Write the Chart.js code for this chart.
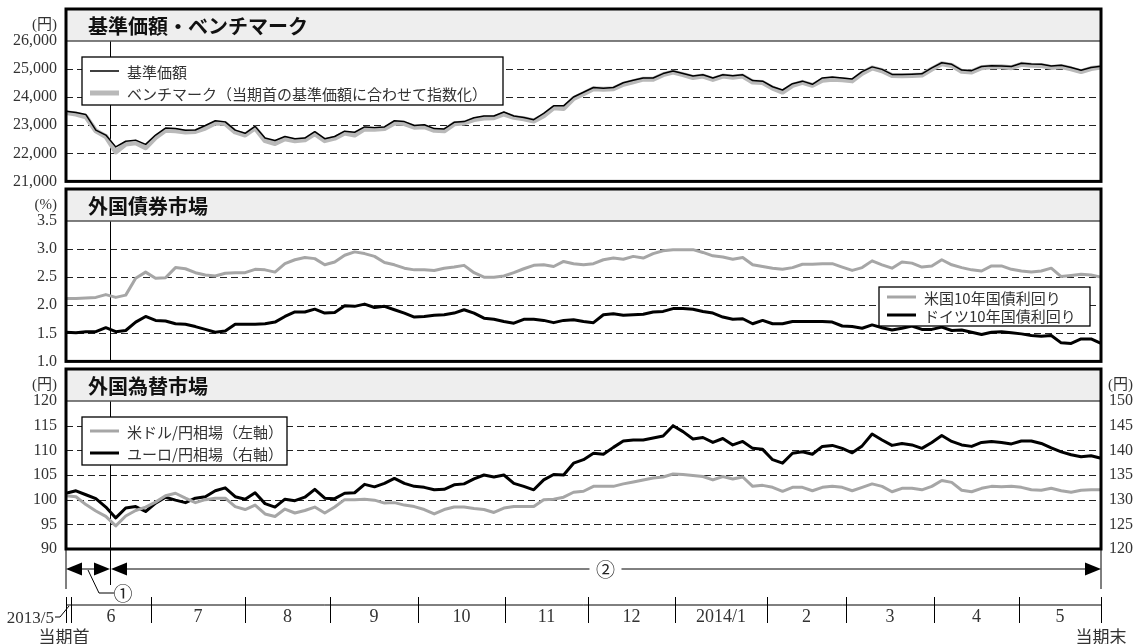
<!DOCTYPE html>
<html>
<head>
<meta charset="utf-8">
<script src="https://cdn.jsdelivr.net/npm/chart.js@4.4.1/dist/chart.umd.min.js"></script>
<style>
  html, body { margin: 0; padding: 0; background: #fff; }
  #wrap { position: relative; width: 1138px; height: 644px; overflow: hidden; }
  .panel { position: absolute; left: 0; width: 1138px; }
</style>
</head>
<body>
<div id="wrap">
  <div class="panel" style="top:0;height:200px"><canvas id="c1" width="1138" height="200"></canvas></div>
  <div class="panel" style="top:180px;height:200px"><canvas id="c2" width="1138" height="200"></canvas></div>
  <div class="panel" style="top:360px;height:284px"><canvas id="c3" width="1138" height="284"></canvas></div>
</div>
<script>
// 基準価額 / ベンチマーク (円), sampled about every 2.4 trading days from 当期首 to 当期末
const navValues = [
  23500, 23450, 23380, 22825, 22650, 22230, 22430, 22470, 22320, 22650,
  22900, 22880, 22825, 22830, 22990, 23160, 23120, 22825, 22713, 22960,
  22545, 22455, 22600, 22520, 22545, 22770, 22520, 22600, 22790, 22750,
  22940, 22915, 22940, 23160, 23129, 22990, 23015, 22880, 22870, 23105,
  23130, 23265, 23330, 23330, 23470, 23330, 23275, 23196, 23420, 23690,
  23690, 24007, 24176, 24345, 24320, 24345, 24514, 24600, 24683, 24683,
  24840, 24930, 24840, 24750, 24795, 24683, 24795, 24760, 24795, 24590,
  24570, 24370, 24255, 24480, 24570, 24457, 24683, 24720, 24683, 24650,
  24907, 25078, 24990, 24810, 24810, 24820, 24830, 25045, 25225, 25170,
  24965, 24943, 25090, 25120, 25110, 25090, 25210, 25180, 25170, 25110,
  25133, 25055, 24955, 25055, 25100
];
const benchValues = [
  23450, 23400, 23300, 22800, 22600, 22050, 22330, 22380, 22200, 22560,
  22820, 22800, 22760, 22780, 22900, 23080, 23060, 22760, 22650, 22900,
  22450, 22350, 22520, 22450, 22480, 22700, 22450, 22540, 22720, 22650,
  22870, 22860, 22880, 23080, 23060, 22930, 22950, 22820, 22800, 23050,
  23080, 23200, 23260, 23270, 23400, 23280, 23230, 23150, 23340, 23620,
  23600, 23950, 24120, 24300, 24280, 24300, 24460, 24550, 24640, 24640,
  24800, 24890, 24800, 24700, 24750, 24630, 24750, 24710, 24750, 24540,
  24520, 24320, 24180, 24420, 24530, 24420, 24600, 24640, 24620, 24580,
  24850, 25040, 24940, 24770, 24760, 24770, 24790, 25000, 25190, 25130,
  24920, 24900, 25050, 25080, 25080, 25050, 25170, 25140, 25130, 25060,
  25090, 25010, 24910, 25020, 25070
];
// 米国 / ドイツ 10年国債利回り (%)
const usYield = [
  2.12, 2.12, 2.13, 2.14, 2.19, 2.14, 2.18, 2.48, 2.59, 2.48,
  2.49, 2.67, 2.65, 2.58, 2.54, 2.52, 2.57, 2.58, 2.58, 2.64,
  2.63, 2.59, 2.74, 2.81, 2.85, 2.83, 2.72, 2.77, 2.89, 2.95,
  2.92, 2.87, 2.76, 2.72, 2.66, 2.63, 2.63, 2.62, 2.66, 2.68,
  2.71, 2.58, 2.50, 2.50, 2.52, 2.58, 2.65, 2.71, 2.72, 2.69,
  2.78, 2.74, 2.72, 2.74, 2.81, 2.84, 2.82, 2.87, 2.84, 2.92,
  2.97, 2.99, 2.99, 2.99, 2.94, 2.88, 2.86, 2.82, 2.85, 2.72,
  2.69, 2.66, 2.64, 2.67, 2.73, 2.73, 2.74, 2.74, 2.68, 2.62,
  2.67, 2.79, 2.72, 2.66, 2.77, 2.75, 2.68, 2.70, 2.81, 2.72,
  2.67, 2.63, 2.61, 2.70, 2.70, 2.64, 2.61, 2.59, 2.61, 2.66,
  2.51, 2.53, 2.55, 2.54, 2.50
];
const deYield = [
  1.52, 1.51, 1.53, 1.53, 1.60, 1.53, 1.55, 1.70, 1.80, 1.73,
  1.72, 1.67, 1.66, 1.62, 1.57, 1.52, 1.54, 1.66, 1.66, 1.66,
  1.67, 1.70, 1.80, 1.88, 1.88, 1.93, 1.86, 1.87, 1.99, 1.98,
  2.02, 1.96, 1.98, 1.92, 1.86, 1.79, 1.80, 1.82, 1.83, 1.86,
  1.92, 1.86, 1.77, 1.75, 1.71, 1.68, 1.75, 1.75, 1.73, 1.69,
  1.73, 1.74, 1.71, 1.69, 1.83, 1.85, 1.82, 1.83, 1.84, 1.88,
  1.89, 1.94, 1.94, 1.93, 1.89, 1.86, 1.79, 1.75, 1.76, 1.67,
  1.73, 1.67, 1.67, 1.71, 1.71, 1.71, 1.71, 1.70, 1.63, 1.62,
  1.59, 1.65, 1.60, 1.56, 1.59, 1.63, 1.57, 1.57, 1.61, 1.55,
  1.56, 1.52, 1.48, 1.52, 1.53, 1.51, 1.49, 1.46, 1.45, 1.46,
  1.33, 1.32, 1.40, 1.40, 1.32
];
// 米ドル/円 (左軸), ユーロ/円 (右軸)
const usdJpy = [
  100.8, 100.6, 99.0, 97.7, 96.6, 94.7, 96.7, 97.8, 98.5, 99.5,
  100.8, 101.3, 100.3, 99.4, 100.0, 100.3, 100.3, 98.6, 98.0, 98.9,
  97.1, 96.6, 98.1, 97.3, 97.8, 98.5, 97.3, 98.5, 100.0, 100.0,
  100.1, 99.9, 99.3, 99.4, 98.9, 98.6, 98.0, 97.1, 98.0, 98.5,
  98.5, 98.2, 98.0, 97.4, 98.3, 98.6, 98.6, 98.6, 100.0, 100.1,
  100.5, 101.5, 101.7, 102.7, 102.7, 102.7, 103.2, 103.6, 104.0, 104.4,
  104.6, 105.2, 105.1, 104.9, 104.7, 104.0, 104.7, 104.2, 104.6, 102.7,
  102.9, 102.5, 101.7, 102.5, 102.5, 101.8, 102.5, 102.7, 102.5, 101.8,
  102.5, 103.2, 102.7, 101.6, 102.3, 102.3, 102.0, 102.7, 103.9, 103.5,
  101.9, 101.6, 102.3, 102.7, 102.6, 102.7, 102.5, 102.0, 101.9, 102.3,
  101.8, 101.5, 101.9, 102.0, 102.0
];
const eurJpy = [
  131.3, 131.8, 131.0, 130.2, 128.5, 126.3, 128.3, 128.6, 127.6, 129.3,
  130.5, 129.9, 129.4, 130.3, 130.6, 131.8, 132.4, 130.6, 130.1, 131.4,
  129.2, 128.5, 130.1, 129.8, 130.5, 132.1, 130.3, 130.2, 131.3, 131.4,
  133.1, 132.6, 133.3, 134.3, 133.3, 132.7, 132.5, 132.0, 132.1, 133.0,
  133.2, 134.2, 135.0, 134.6, 135.0, 133.3, 132.7, 132.0, 134.0, 135.1,
  135.0, 137.4, 138.1, 139.4, 139.2, 140.6, 141.9, 142.1, 142.1, 142.5,
  142.9, 145.0, 143.8, 142.3, 142.6, 141.6, 142.4, 141.1, 141.8, 140.4,
  140.2, 138.1, 137.4, 139.4, 139.7, 139.2, 140.8, 141.0, 140.4, 139.5,
  140.9, 143.3, 142.1, 141.0, 141.4, 141.1, 140.4, 141.6, 143.0, 141.8,
  141.1, 140.8, 141.6, 141.8, 141.6, 141.3, 141.9, 141.9, 141.4, 140.5,
  139.7, 139.1, 138.7, 138.9, 138.4
];

// x axis: sample index; month boundaries and the ①/② split in the same units
const sampleIdx = navValues.map((_, i) => i);
const monthEdges = [0, 0.5, 8.54, 17.99, 26.53, 35.37, 44.11, 52.45, 61.19, 70.44, 78.38, 87.22, 95.76, 104];
const monthLabels = ["6", "7", "8", "9", "10", "11", "12", "2014/1", "2", "3", "4", "5"];
const periodSplit = 4.42;

const SERIF = "'Liberation Serif', 'DejaVu Serif', 'Noto Sans CJK JP', serif";
const GOTHIC = "'Noto Sans CJK JP', 'Noto Sans', sans-serif";
const GRAY = "#a6a6a6";

const line = (y1, y2, x1, x2, ctx) => {
  ctx.beginPath();
  ctx.moveTo(x1, y1);
  ctx.lineTo(x2, y2);
  ctx.stroke();
};

const arrowHead = (ctx, tipX, y, dir) => {
  // dir = -1 points left, +1 points right
  ctx.beginPath();
  ctx.moveTo(tipX, y);
  ctx.lineTo(tipX - dir * 16, y - 6.5);
  ctx.lineTo(tipX - dir * 16, y + 6.5);
  ctx.closePath();
  ctx.fill();
};

const deco = {
  id: "deco",
  beforeDraw(chart, args, o) {
    const { ctx, chartArea: a } = chart;
    ctx.save();
    ctx.fillStyle = "#eeeeee";
    ctx.fillRect(a.left, 9, a.right - a.left, a.top - 9);
    ctx.fillStyle = "#111";
    ctx.font = "bold 20px " + GOTHIC;
    ctx.textBaseline = "middle";
    ctx.fillText(o.title, a.left + 22, (9 + a.top) / 2 + 1);
    ctx.font = "15px " + SERIF;
    ctx.fillStyle = "#333";
    ctx.textAlign = "right";
    ctx.fillText(o.unitLeft, a.left - 9, a.top - 16);
    if (o.unitRight) {
      ctx.textAlign = "left";
      ctx.fillText(o.unitRight, a.right + 7, a.top - 16);
    }
    ctx.restore();
  },
  beforeDatasetsDraw(chart, args, o) {
    const { ctx, chartArea: a, scales } = chart;
    const y = scales.y;
    ctx.save();
    ctx.strokeStyle = "#222";
    ctx.lineWidth = 1.2;
    ctx.setLineDash([7, 4]);
    y.ticks.forEach((t, i) => {
      if (i === 0 || i === y.ticks.length - 1) return;
      const py = Math.round(y.getPixelForValue(t.value)) + 0.5;
      line(py, py, a.left, a.right, ctx);
    });
    ctx.setLineDash([]);
    ctx.strokeStyle = "#000";
    ctx.lineWidth = 1;
    const sx = Math.round(scales.x.getPixelForValue(periodSplit)) + 0.5;
    line(a.top, a.bottom + (o.timeline ? 36 : 0), sx, sx, ctx);
    ctx.restore();
  },
  afterDraw(chart, args, o) {
    const { ctx, chartArea: a, scales } = chart;
    ctx.save();
    // title bar rule and frame
    ctx.strokeStyle = "#555";
    ctx.lineWidth = 1.5;
    line(a.top, a.top, a.left, a.right, ctx);
    ctx.strokeStyle = "#000";
    ctx.lineWidth = 3;
    ctx.strokeRect(a.left, 9, a.right - a.left, a.bottom - 9);

    // legend
    const L = o.legend;
    const lx = L.right ? a.right - L.right - L.w : a.left + L.left;
    const ly = a.top + L.top;
    ctx.fillStyle = "#fff";
    ctx.fillRect(lx, ly, L.w, L.h);
    ctx.strokeStyle = "#000";
    ctx.lineWidth = 1.3;
    ctx.strokeRect(lx, ly, L.w, L.h);
    ctx.font = "15px " + GOTHIC;
    ctx.textBaseline = "middle";
    ctx.textAlign = "left";
    L.items.forEach((di, k) => {
      const ds = chart.data.datasets[di];
      const yy = ly + L.first + k * L.gap;
      ctx.strokeStyle = ds.borderColor;
      ctx.lineWidth = ds.borderWidth;
      line(yy, yy, lx + 8, lx + 37, ctx);
      ctx.fillStyle = "#333";
      ctx.fillText(ds.label, lx + 45, yy + 1);
    });

    if (o.timeline) {
      const x = scales.x;
      const xs = x.getPixelForValue(0);
      const xe = x.getPixelForValue(sampleIdx.length - 1);
      const sp = x.getPixelForValue(periodSplit);
      const ay = a.bottom + 20;
      ctx.fillStyle = "#000";
      ctx.strokeStyle = "#000";
      ctx.lineWidth = 1;
      // period arrows
      arrowHead(ctx, xs, ay, -1);
      arrowHead(ctx, sp, ay, 1);
      line(ay, ay, xs + 16, sp - 16, ctx);
      arrowHead(ctx, sp + 1, ay, -1);
      arrowHead(ctx, xe, ay, 1);
      const mid = (sp + xe) / 2;
      line(ay, ay, sp + 17, mid - 16, ctx);
      line(ay, ay, mid + 16, xe - 16, ctx);
      ctx.font = "19px " + GOTHIC;
      ctx.textAlign = "center";
      ctx.fillStyle = "#222";
      ctx.fillText("②", mid, ay + 1);
      // ① leader
      ctx.beginPath();
      ctx.moveTo(xs + 22, ay + 1);
      ctx.lineTo(xs + 33, ay + 24);
      ctx.lineTo(xs + 48, ay + 24);
      ctx.stroke();
      ctx.fillText("①", xs + 57, ay + 25);
      // end verticals
      line(a.bottom, a.bottom + 40, xs, xs, ctx);
      line(a.bottom, a.bottom + 40, xe, xe, ctx);

      // month timeline
      const ty = a.bottom + 56;
      line(ty, ty, xs, xe, ctx);
      monthEdges.forEach((e) => {
        const px = Math.round(x.getPixelForValue(e)) + 0.5;
        line(ty - 8, ty + 18, px, px, ctx);
      });
      ctx.font = "18px " + SERIF;
      ctx.fillStyle = "#333";
      monthLabels.forEach((lab, k) => {
        const cx = (x.getPixelForValue(monthEdges[k + 1]) + x.getPixelForValue(monthEdges[k + 2])) / 2;
        ctx.fillText(lab, cx, ty + 12);
      });
      ctx.font = "17px " + SERIF;
      ctx.textAlign = "right";
      ctx.fillText("2013/5", xs - 12, ty + 14);
      ctx.beginPath();
      ctx.moveTo(xs - 11, ty + 12);
      ctx.lineTo(xs - 6, ty + 12);
      ctx.lineTo(xs + 3, ty + 1);
      ctx.stroke();
      ctx.font = "17px " + GOTHIC;
      ctx.textAlign = "center";
      ctx.fillText("当期首", xs - 2, ty + 32);
      ctx.fillText("当期末", xe, ty + 32);
    }
    ctx.restore();
  },
};

const tickFont = { family: SERIF, size: 16 };

const yAxis = (min, max, step, fmt, pos, width) => ({
  position: pos,
  min: min,
  max: max,
  ticks: { stepSize: step, padding: pos === "right" ? 8 : 9, font: tickFont, color: "#333", callback: fmt },
  grid: { display: false, drawTicks: false },
  border: { display: false },
  afterFit: (s) => {
    s.width = width;
  },
});

const xAxis = { type: "category", display: false };

const makeChart = (id, datasets, scales, padding, decoOpts) =>
  new Chart(document.getElementById(id), {
    type: "line",
    data: { labels: sampleIdx, datasets: datasets },
    options: {
      responsive: false,
      animation: false,
      events: [],
      layout: { padding: padding },
      elements: { point: { radius: 0 }, line: { tension: 0, borderJoinStyle: "round" } },
      scales: scales,
      plugins: { legend: { display: false }, tooltip: { enabled: false }, deco: decoOpts },
    },
    plugins: [deco],
  });

makeChart(
  "c1",
  [
    { label: "基準価額", data: navValues, borderColor: "#000", borderWidth: 1.5 },
    { label: "ベンチマーク（当期首の基準価額に合わせて指数化）", data: benchValues, borderColor: "#b9b9b9", borderWidth: 5 },
  ],
  { x: xAxis, y: yAxis(21000, 26000, 1000, (v) => v.toLocaleString("en-US"), "left", 66) },
  { left: 0, right: 37, top: 41, bottom: 11 },
  {
    title: "基準価額・ベンチマーク",
    unitLeft: "(円)",
    legend: { left: 16, top: 16, w: 421, h: 48, first: 14, gap: 22, items: [0, 1] },
  }
);

makeChart(
  "c2",
  [
    { label: "米国10年国債利回り", data: usYield, borderColor: GRAY, borderWidth: 3 },
    { label: "ドイツ10年国債利回り", data: deYield, borderColor: "#000", borderWidth: 3 },
  ],
  { x: xAxis, y: yAxis(1.0, 3.5, 0.5, (v) => v.toFixed(1), "left", 66) },
  { left: 0, right: 37, top: 41, bottom: 11 },
  {
    title: "外国債券市場",
    unitLeft: "(%)",
    legend: { right: 11, top: 66, w: 211, h: 39, first: 10, gap: 18, items: [0, 1] },
  }
);

makeChart(
  "c3",
  [
    { label: "米ドル/円相場（左軸）", data: usdJpy, borderColor: GRAY, borderWidth: 3, yAxisID: "y" },
    { label: "ユーロ/円相場（右軸）", data: eurJpy, borderColor: "#000", borderWidth: 3, yAxisID: "y2" },
  ],
  {
    x: xAxis,
    y: yAxis(90, 120, 5, (v) => String(v), "left", 66),
    y2: yAxis(120, 150, 5, (v) => String(v), "right", 37),
  },
  { left: 0, right: 0, top: 41, bottom: 95 },
  {
    title: "外国為替市場",
    unitLeft: "(円)",
    unitRight: "(円)",
    timeline: true,
    legend: { left: 16, top: 16, w: 205, h: 48, first: 14, gap: 22, items: [0, 1] },
  }
);
</script>
</body>
</html>
